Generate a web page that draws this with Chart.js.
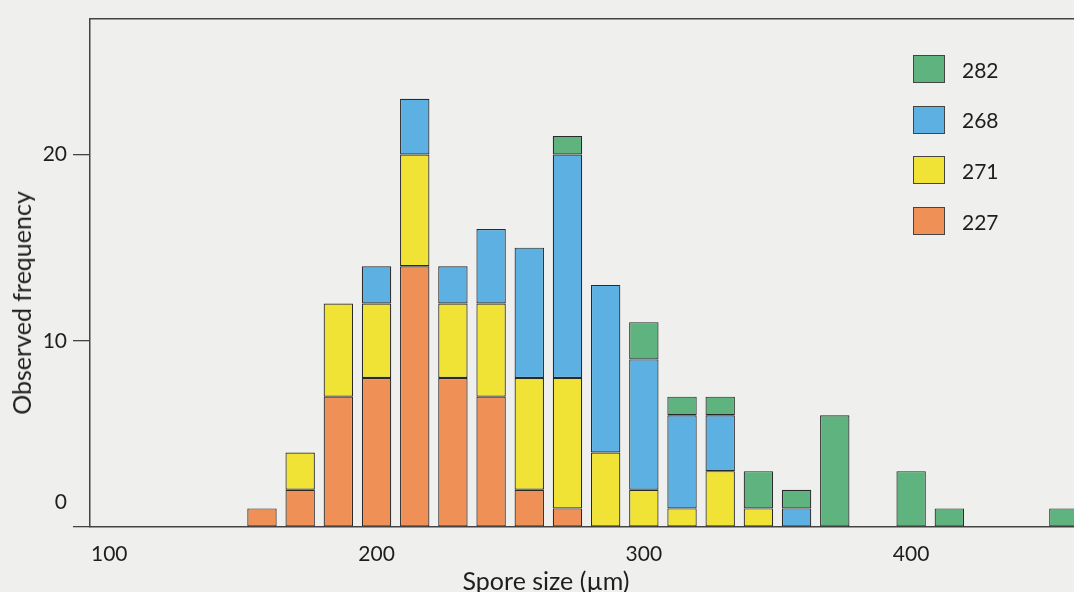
<!DOCTYPE html>
<html>
<head>
<meta charset="utf-8">
<script src="https://cdn.jsdelivr.net/npm/chart.js@4.4.0/dist/chart.umd.min.js"></script>
<style>
html, body { margin: 0; padding: 0; background: #efefee; overflow: hidden; width: 1074px; height: 592px; }
#wrap { position: relative; width: 1110px; height: 592px; }
#legend { position: absolute; left: 913px; top: 55px; font-family: Lato, "Open Sans", sans-serif; font-size: 21px; color: #1e1e1e; }
.item { display: flex; align-items: center; height: 28px; margin-bottom: 22.7px; }
.box { width: 30px; height: 26px; border: 1px solid #444; margin-right: 17px; box-sizing: content-box; }
.ttl { position: absolute; white-space: nowrap; line-height: 30px;
       font-family: Lato, "Open Sans", sans-serif; font-size: 25px; color: #1e1e1e; }
#xtitle { left: 546px; top: 580px; transform: translate(-50%, -50%); }
#ytitle { left: 21px; top: 303px; transform: translate(-50%, -50%) rotate(-90deg); }
</style>
</head>
<body>
<div id="wrap">
  <canvas id="c" width="1110" height="592"></canvas>
  <div id="legend"></div>
  <div id="xtitle" class="ttl"></div>
  <div id="ytitle" class="ttl"></div>
</div>
<script>
// Bin centres (spore size, µm) — 7 bins per 100 µm
const binCenters = [157.14, 171.43, 185.71, 200, 214.29, 228.57, 242.86, 257.14, 271.43, 285.71,
                    300, 314.29, 328.57, 342.86, 357.14, 371.43, 385.71, 400, 414.29, 428.57, 442.86, 457.14];
// Observed frequencies per strain
const s227 = [1, 2, 7, 8, 14, 8, 7, 2, 1, 0, 0, 0, 0, 0, 0, 0, 0, 0, 0, 0, 0, 0];
const s271 = [0, 2, 5, 4, 6, 4, 5, 6, 7, 4, 2, 1, 3, 1, 0, 0, 0, 0, 0, 0, 0, 0];
const s268 = [0, 0, 0, 2, 3, 2, 4, 7, 12, 9, 7, 5, 3, 0, 1, 0, 0, 0, 0, 0, 0, 0];
const s282 = [0, 0, 0, 0, 0, 0, 0, 0, 1, 0, 2, 1, 1, 2, 1, 6, 0, 3, 1, 0, 0, 1];
const seriesNames = ['227', '271', '268', '282'];
const seriesColors = ['#ef9156', '#f1e236', '#5cb0e2', '#5fb37e'];
const xTickValues = [100, 200, 300, 400];
const yTickValues = [0, 10, 20];
const xTitle = 'Spore size (µm)';
const yTitle = 'Observed frequency';

const FONT = { family: 'Lato, "Open Sans", sans-serif', size: 21 };
const INK = '#1e1e1e';
const AXIS = '#444444';

const seriesData = [s227, s271, s268, s282];
const datasets = seriesData.map((arr, k) => ({
  label: seriesNames[k],
  data: arr.map((v, i) => ({ x: binCenters[i], y: v })),
  backgroundColor: seriesColors[k],
  borderColor: '#2a2a2a',
  borderWidth: 1.2,
  borderSkipped: false,
  barPercentage: 0.77,
  categoryPercentage: 1.0
}));

const chart = new Chart(document.getElementById('c'), {
  type: 'bar',
  data: { datasets },
  options: {
    responsive: false,
    animation: false,
    layout: { padding: 0 },
    plugins: { legend: { display: false }, tooltip: { enabled: false } },
    scales: {
      x: {
        type: 'linear',
        position: 'bottom',
        stacked: true,
        offset: false,
        min: 92.8, max: 474.4,
        afterBuildTicks: s => { s.ticks = xTickValues.map(v => ({ value: v })); },
        afterFit: s => { s.height = 65; },
        grid: { display: false, drawTicks: false },
        border: { display: true, color: AXIS, width: 1.5 },
        ticks: { font: FONT, color: INK, padding: 15, maxRotation: 0, callback: v => String(v) },
        title: { display: false }
      },
      xTop: {
        type: 'linear',
        position: 'top',
        offset: false,
        min: 92.8, max: 474.4,
        afterFit: s => { s.height = 15; },
        grid: { display: false, drawTicks: false },
        border: { display: true, color: AXIS, width: 1.5 },
        ticks: { display: false }
      },
      y: {
        type: 'linear',
        position: 'left',
        stacked: true,
        min: 0, max: 27.3,
        afterBuildTicks: s => { s.ticks = yTickValues.map(v => ({ value: v })); },
        afterFit: s => { s.width = 90; },
        grid: { display: true, drawOnChartArea: false, drawTicks: true, tickLength: 17, color: AXIS, lineWidth: 1.3 },
        border: { display: true, color: AXIS, width: 1.5 },
        ticks: { font: FONT, color: INK, padding: 6, callback: v => (v === 0 ? ['0', '', ''] : String(v)) },
        title: { display: false }
      }
    }
  }
});

document.getElementById('xtitle').textContent = xTitle;
document.getElementById('ytitle').textContent = yTitle;

// HTML legend, top of stack first
const legend = document.getElementById('legend');
chart.data.datasets.slice().reverse().forEach(ds => {
  const item = document.createElement('div');
  item.className = 'item';
  const box = document.createElement('span');
  box.className = 'box';
  box.style.background = ds.backgroundColor;
  const txt = document.createElement('span');
  txt.textContent = ds.label;
  item.appendChild(box);
  item.appendChild(txt);
  legend.appendChild(item);
});
</script>
</body>
</html>
